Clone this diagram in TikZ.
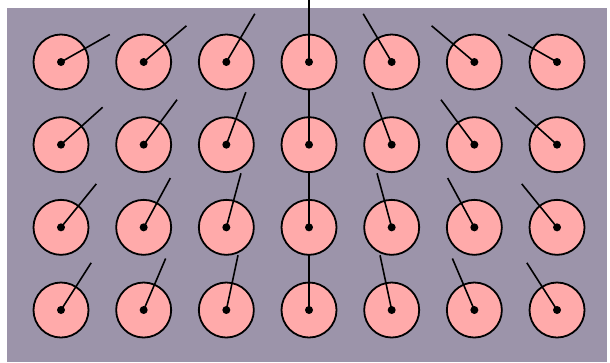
\documentclass[tikz,border=0pt]{standalone}
\usetikzlibrary{calc}
\definecolor{bgcol}{RGB}{156,148,170}
\definecolor{disc}{RGB}{255,170,170}
\tikzset{
  panel/.style={fill=bgcol, draw=none},
  discbox/.style={fill=disc, draw=black, line width=1.8pt},
  hub/.style={fill=black, draw=none},
  needle/.style={draw=black, line width=1.6pt},
}
\begin{document}
\begin{tikzpicture}[x=1pt,y=-1pt]
\useasboundingbox (0,0) rectangle (610,362);
\fill[white] (0,0) rectangle (610,362);
\fill[panel] (7,8) rectangle (607,362);
\coordinate (P) at (309,-78);
\foreach \i in {0,...,6}{
  \foreach \j in {0,...,3}{
    \coordinate (c\i\j) at ({61+82.67*\i},{62+82.67*\j});
    \draw[discbox] (c\i\j) circle[radius=27.5];
  }
}
\foreach \i in {0,...,6}{
  \foreach \j in {0,...,3}{
    \pgfmathsetmacro{\len}{(\i==3 && \j==0) ? 64 : 56}
    \coordinate (e\i\j) at ($(c\i\j)!\len pt!(P)$);
    \draw[needle] (c\i\j) -- (e\i\j);
    \fill[hub] (c\i\j) circle[radius=4];
  }
}
\end{tikzpicture}
\end{document}
